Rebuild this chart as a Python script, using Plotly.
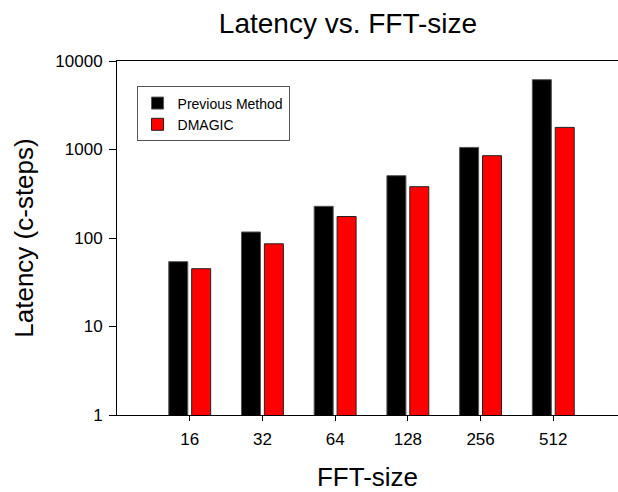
import plotly.graph_objects as go

categories = ["16", "32", "64", "128", "256", "512"]
previous_method = [54, 117, 228, 506, 1056, 6150]
dmagic = [45, 86, 175, 380, 851, 1778]
y_ticks = [1, 10, 100, 1000, 10000]
y_tick_labels = ["1", "10", "100", "1000", "10000"]

FONT = "Liberation Sans, Arial, sans-serif"

fig = go.Figure()
fig.add_trace(go.Bar(x=categories, y=previous_method, name="Previous Method",
                     marker=dict(color="#000000", line=dict(color="#555555", width=1))))
fig.add_trace(go.Bar(x=categories, y=dmagic, name="DMAGIC",
                     marker=dict(color="#ff0000", line=dict(color="#222222", width=1))))

fig.update_layout(
    width=618, height=492,
    margin=dict(l=117, r=0, t=61, b=77),
    paper_bgcolor="white", plot_bgcolor="white",
    barmode="group", bargap=0.37, bargroupgap=0.17,
    font=dict(family=FONT, color="black"),
    title=dict(text="Latency vs. FFT-size", x=348/618, xref="container", xanchor="center",
               y=1 - 23/492, yref="container", yanchor="middle",
               font=dict(size=28, family=FONT, color="black")),
    legend=dict(x=0.039, y=0.928, xanchor="left", yanchor="top",
                bordercolor="#555555", borderwidth=1, bgcolor="white",
                font=dict(size=14, family=FONT, color="black"),
                tracegroupgap=0, itemwidth=30),
    showlegend=True,
)
fig.update_xaxes(
    title=dict(text="FFT-size", font=dict(size=26, family=FONT), standoff=22),
    showline=True, linecolor="black", linewidth=1, mirror=True,
    ticks="outside", ticklen=5, tickcolor="black", ticklabelstandoff=4,
    tickfont=dict(size=17, family=FONT),
    showgrid=False, range=[-1, 5.89],
)
fig.update_yaxes(
    type="log", range=[0, 4],
    title=dict(text="Latency (c-steps)", font=dict(size=26, family=FONT), standoff=14),
    showline=True, linecolor="black", linewidth=1, mirror=False,
    ticks="outside", ticklen=7, tickcolor="black", ticklabelstandoff=3,
    tickvals=y_ticks, ticktext=y_tick_labels,
    tickfont=dict(size=17, family=FONT),
    showgrid=False, zeroline=False,
)

fig.write_html("out.html", config={"displayModeBar": False},
               post_script="document.body.style.margin='0';document.body.style.overflow='hidden';")
